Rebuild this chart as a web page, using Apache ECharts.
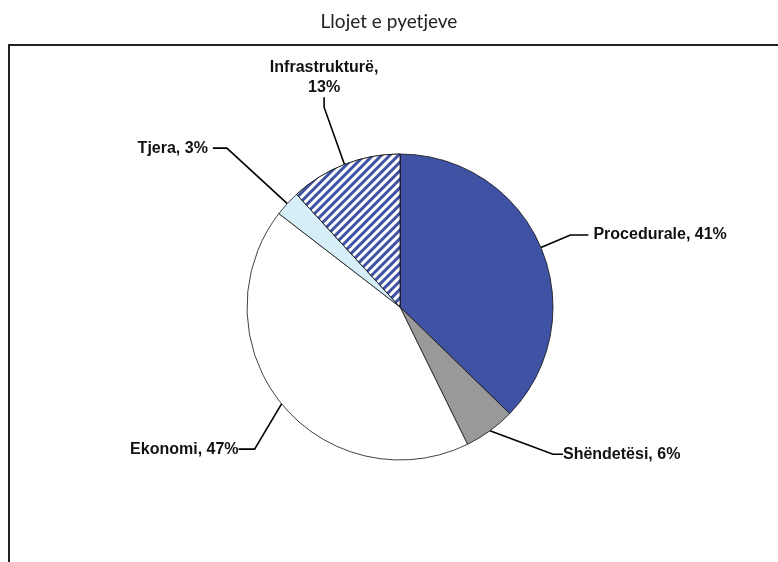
<!DOCTYPE html>
<html><head><meta charset="utf-8">
<script src="https://cdn.jsdelivr.net/npm/echarts@6/dist/echarts.min.js"></script>
<style>html,body{margin:0;padding:0;background:#fff}#c{width:778px;height:562px}</style>
</head><body><div id="c"></div>
<script>
const chartTitle = 'Llojet e pyetjeve';
const categories = ['Procedurale', 'Shëndetësi', 'Ekonomi', 'Tjera', 'Infrastrukturë'];
const values = [41, 6, 47, 3, 13];

const sliceColors = ['#4052A4', '#999999', '#FFFFFF', '#D6EEF8', '#FFFFFF'];
const lineLen = [32, 29, 40, 82, 70];
const lineLen2 = [18, 10, 16, 14, 10];
const labelShift = [null, [41, 0], [9, 20], null, [20, -2]];

const chart = echarts.init(document.getElementById('c'), null, {renderer: 'canvas'});

const data = categories.map(function (name, i) {
  const item = {
    name: name,
    value: values[i],
    itemStyle: {color: sliceColors[i]},
    labelLine: {length: lineLen[i], length2: lineLen2[i]}
  };
  if (name === 'Infrastrukturë') {
    item.itemStyle.decal = {
      symbol: 'rect', symbolSize: 1,
      dashArrayX: [1, 0], dashArrayY: [2.4, 3],
      rotation: -Math.PI / 4,
      color: '#4052A4', backgroundColor: '#FFFFFF'
    };
    item.label = {formatter: '{b},\n{c}%'};
  }
  return item;
});

chart.setOption({
  animation: false,
  backgroundColor: '#fff',
  aria: {enabled: true, decal: {show: false}},
  title: {
    text: chartTitle, left: 'center', top: 7,
    textStyle: {fontFamily: 'Lato', fontWeight: 'normal', fontSize: 19, color: '#222'}
  },
  graphic: [{
    type: 'rect', silent: true,
    shape: {x: 9, y: 45, width: 790, height: 540},
    style: {fill: 'none', stroke: '#222', lineWidth: 2}
  }],
  series: [{
    type: 'pie',
    center: [400, 307],
    radius: 153,
    startAngle: 90,
    clockwise: true,
    avoidLabelOverlap: false,
    padAngle: 0,
    emphasis: {disabled: true},
    itemStyle: {borderColor: '#111', borderWidth: 0.8, borderRadius: 0},
    label: {
      show: true, position: 'outside',
      formatter: '{b}, {c}%',
      fontFamily: 'Liberation Sans', fontWeight: 'bold', fontSize: 16, lineHeight: 20,
      color: '#111', distanceToLabelLine: 5
    },
    labelLine: {show: true, smooth: false, lineStyle: {color: '#000', width: 1.6}},
    labelLayout: function (p) {
      const s = labelShift[p.dataIndex];
      if (!s) return {};
      const r = p.labelRect;
      const al = p.align || 'right';
      const ax = al === 'right' ? r.x + r.width : (al === 'center' ? r.x + r.width / 2 : r.x);
      const ay = r.y + r.height / 2;
      if (categories[p.dataIndex] === 'Infrastrukturë') {
        return {x: ax + s[0], y: ay + s[1], align: 'center', verticalAlign: 'bottom'};
      }
      return {x: ax + s[0], y: ay + s[1]};
    },
    data: data
  }]
});
</script></body></html>
